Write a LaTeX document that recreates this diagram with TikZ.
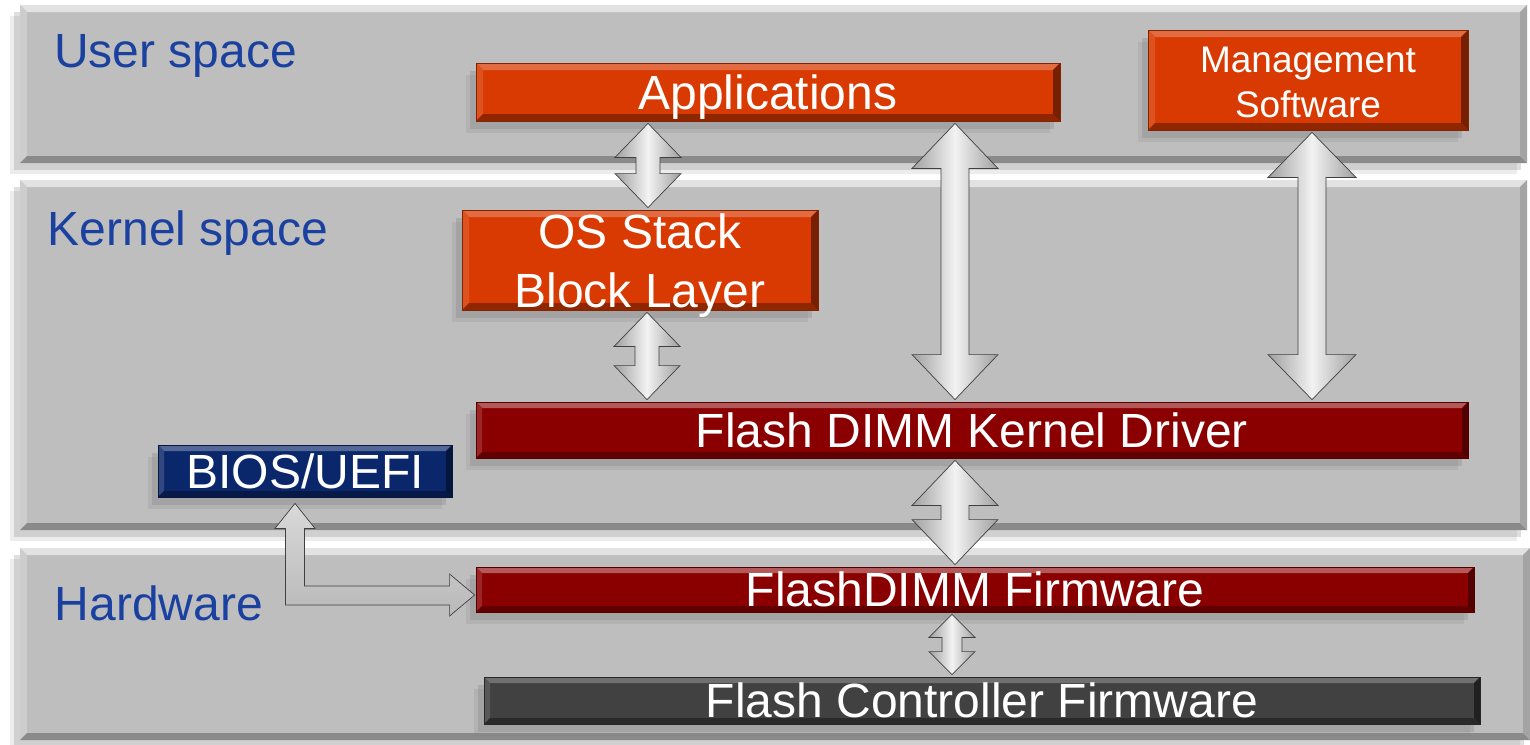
\documentclass[tikz,border=0pt]{standalone}
\usepackage{fontspec}
\setmainfont{Liberation Sans}
\usetikzlibrary{shadows,calc}
\definecolor{bandgray}{HTML}{BEBEBE}
\definecolor{bandtop}{HTML}{E2E2E2}
\definecolor{bandleft}{HTML}{CDCDCD}
\definecolor{bandbot}{HTML}{8A8A8A}
\definecolor{bandright}{HTML}{A4A4A4}
\definecolor{orangebox}{HTML}{D93A02}
\definecolor{darkredbox}{HTML}{8A0000}
\definecolor{navybox}{HTML}{0B276B}
\definecolor{graybox}{HTML}{414141}
\definecolor{lblblue}{HTML}{1A40A0}
\newcommand\bev[5]{%
  \fill[#2] (path picture bounding box.north west) -- (path picture bounding box.north east)
    -- ([xshift=-#1,yshift=-#1]path picture bounding box.north east) -- ([xshift=#1,yshift=-#1]path picture bounding box.north west) -- cycle;
  \fill[#3] (path picture bounding box.north west) -- ([xshift=#1,yshift=-#1]path picture bounding box.north west)
    -- ([xshift=#1,yshift=#1]path picture bounding box.south west) -- (path picture bounding box.south west) -- cycle;
  \fill[#4] (path picture bounding box.south west) -- (path picture bounding box.south east)
    -- ([xshift=-#1,yshift=#1]path picture bounding box.south east) -- ([xshift=#1,yshift=#1]path picture bounding box.south west) -- cycle;
  \fill[#5] (path picture bounding box.north east) -- (path picture bounding box.south east)
    -- ([xshift=-#1,yshift=#1]path picture bounding box.south east) -- ([xshift=-#1,yshift=-#1]path picture bounding box.north east) -- cycle;}
% two-line text whose baseline is that of its first line
\newcommand\twolines[1]{\begin{tabular}[t]{@{}c@{}}#1\end{tabular}}
% vertical double arrow: top anchor, bottom anchor, x, head half width, shaft half width, head length, gap
\newcommand\vdarrow[7]{%
  \path[silver] let \p1=(#1), \p2=(#2) in
    (#3pt,\y1-#7pt) -- (#3pt+#4pt,\y1-#7pt-#6pt) -- (#3pt+#5pt,\y1-#7pt-#6pt)
    -- (#3pt+#5pt,\y2+#7pt+#6pt) -- (#3pt+#4pt,\y2+#7pt+#6pt) -- (#3pt,\y2+#7pt)
    -- (#3pt-#4pt,\y2+#7pt+#6pt) -- (#3pt-#5pt,\y2+#7pt+#6pt) -- (#3pt-#5pt,\y1-#7pt-#6pt)
    -- (#3pt-#4pt,\y1-#7pt-#6pt) -- cycle;}
\tikzset{
  band/.style={rectangle, inner sep=0pt, fill=bandgray,
    drop shadow={shadow xshift=-6pt, shadow yshift=-7pt, opacity=.25},
    drop shadow={shadow xshift=-10pt, shadow yshift=-11pt, opacity=.15},
    path picture={\bev{7pt}{bandtop}{bandleft}{bandbot}{bandright}}},
  box/.style={rectangle, inner sep=0pt, text=white,
    font=\fontsize{48}{58}\selectfont,
    drop shadow={shadow xshift=-6pt, shadow yshift=-8pt, opacity=.3},
    drop shadow={shadow xshift=-10pt, shadow yshift=-12pt, opacity=.18}},
  oneline/.style={text height=34.5pt, text depth=0pt},
  orangeb/.style={box, fill=orangebox, draw=orangebox!60!black, line width=.8pt,
    path picture={\bev{7pt}{orangebox!75!white}{orangebox!88!white}{orangebox!65!black}{orangebox!55!black}}},
  redb/.style={box, fill=darkredbox, draw=darkredbox!60!black, line width=.8pt,
    path picture={\bev{6pt}{darkredbox!65!white}{darkredbox!85!white}{darkredbox!70!black}{darkredbox!60!black}}},
  navyb/.style={box, fill=navybox, draw=navybox!60!black, line width=.8pt,
    path picture={\bev{6pt}{navybox!70!white}{navybox!85!white}{navybox!65!black}{navybox!55!black}}},
  grayb/.style={box, fill=graybox, draw=graybox!60!black, line width=.8pt,
    path picture={\bev{6pt}{graybox!75!white}{graybox!88!white}{graybox!65!black}{graybox!50!black}}},
  lbl/.style={inner sep=0pt, text=lblblue, font=\fontsize{48}{56}\selectfont},
  silver/.style={left color=gray!75, right color=gray!75, middle color=white!90!gray,
    draw=gray!50!black, line width=.7pt},
  elbow/.style={top color=gray!30, bottom color=gray!55, draw=gray!50!black, line width=.7pt}
}
\begin{document}
\begin{tikzpicture}[x=1pt,y=-1pt]
\useasboundingbox (0,0) rectangle (1530,744);
\fill[white] (0,0) rectangle (1530,744);
% bands
\node[band, minimum width=1507pt, minimum height=158pt] (user) at (773.5,84) {};
\node[band, minimum width=1507pt, minimum height=350pt] (kernel) at (773.5,355) {};
\node[band, minimum width=1510pt, minimum height=192pt] (hw) at (775,644) {};
% labels
\node[lbl, anchor=base west] (ulbl) at (54,67) {User space};
\node[lbl, anchor=base west] (klbl) at (47.5,245) {Kernel space};
\node[lbl, anchor=base west] (hlbl) at (54.5,620) {Hardware};
% boxes
\node[orangeb, oneline, minimum width=584pt, minimum height=58pt] (app) at (768,92) {Applications};
\node[orangeb, minimum width=320pt, minimum height=100pt, font=\fontsize{37}{45}\selectfont,
      text height=24pt, text depth=40pt] (mgmt) at (1308,80) {\twolines{Management\\Software}};
\node[orangeb, minimum width=356pt, minimum height=100pt, font=\fontsize{48}{59}\selectfont,
      text height=30pt, text depth=54pt] (os) at (640,260) {\twolines{OS Stack\\Block Layer}};
\node[redb, oneline, minimum width=992pt, minimum height=56pt] (drv) at (972,430) {Flash DIMM Kernel Driver};
\node[navyb, oneline, minimum width=294pt, minimum height=52pt] (bios) at (305,471) {BIOS/UEFI};
\node[redb, oneline, minimum width=998pt, minimum height=45pt] (fw) at (975,589.5) {FlashDIMM Firmware};
\node[grayb, oneline, minimum width=996pt, minimum height=47pt] (fc) at (982,700.5) {Flash Controller Firmware};
% arrows
\vdarrow{app.south}{os.north}{648}{33}{12}{34}{2}
\vdarrow{os.south}{drv.north}{647}{33}{12}{34}{2}
\vdarrow{app.south}{drv.north}{955}{43}{14}{45}{2}
\vdarrow{mgmt.south}{drv.north}{1312}{44}{14}{45}{2}
\vdarrow{drv.south}{fw.north}{955}{43}{14}{45}{2}
\vdarrow{fw.south}{fc.north}{952}{23}{10}{23}{2}
\path[elbow] let \p1=(bios.south), \p2=(fw.west) in
  (295pt,\y1-6pt) -- (315pt,\y1-31pt) -- (304.5pt,\y1-31pt) -- (304.5pt,\y2+3.5pt)
  -- (\x2-26pt,\y2+3.5pt) -- (\x2-26pt,\y2+15.5pt) -- (\x2-1pt,\y2-5.5pt)
  -- (\x2-26pt,\y2-26.5pt) -- (\x2-26pt,\y2-15.5pt) -- (285.5pt,\y2-15.5pt)
  -- (285.5pt,\y1-31pt) -- (275pt,\y1-31pt) -- cycle;
\end{tikzpicture}
\end{document}
